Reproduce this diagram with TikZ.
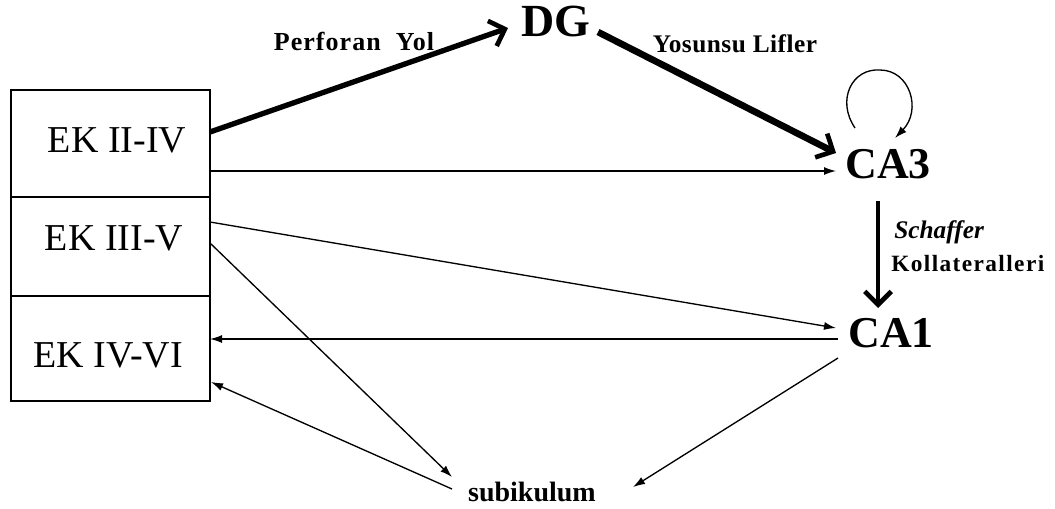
\documentclass[tikz,border=0pt]{standalone}
\usepackage{fontspec}
\setmainfont{Liberation Serif}
\usetikzlibrary{arrows.meta}
\begin{document}
\begin{tikzpicture}[x=0.75pt,y=-0.75pt,
  ek/.style={font=\fontsize{28.5}{30}\selectfont},
  region/.style={font=\fontsize{33}{36}\selectfont\bfseries, inner sep=0pt},
  lbl/.style={font=\fontsize{19}{20}\selectfont\bfseries\addfontfeature{LetterSpace=2}, inner sep=0pt},
  thinarrow/.style={line width=1pt,-{Latex[length=9pt,width=6pt]}},
  thickarrow/.style={-{Straight Barb[length=10pt,width=20pt,line width=3.5pt]}},
  boxline/.style={line width=2.2pt},
  divline/.style={line width=1pt}]
\useasboundingbox (0,0) rectangle (1055,508);

% entorhinal box
\draw[boxline] (11,90) rectangle (210,401);
\draw[divline] (11,197) -- (210,197);
\draw[divline] (11,296) -- (210,296);
\node[ek] (ek2) at (117,140) {EK II-IV};
\node[ek] (ek3) at (114,238) {EK III-V};
\node[ek] (ek4) at (108,355) {EK IV-VI};

% regions
\node[region, font=\fontsize{34.5}{36}\selectfont\bfseries] (dg) at (556,21) {DG};
\node[region] (ca3) at (888,164) {CA3};
\node[region] (ca1) at (891,333) {CA1};
\node[font=\fontsize{21}{24}\selectfont\bfseries, inner sep=0pt] (sub) at (532,492) {subikulum};

% connector end points
\coordinate (ek2a) at (210,132);
\coordinate (ek2b) at (210,171);
\coordinate (ek3a) at (210,222);
\coordinate (ek3b) at (210,243);
\coordinate (ek4a) at (210,339);
\coordinate (ek4b) at (211,382);
\coordinate (dgin) at (508,28);
\coordinate (dgout) at (598,32);
\coordinate (ca3in) at (836,153);
\coordinate (ca3h) at (836,171);
\coordinate (ca3out) at (878,201);
\coordinate (ca1in) at (878,308);
\coordinate (ca1l) at (836,328);
\coordinate (ca1o) at (838,339);
\coordinate (ca1d) at (838,358);
\coordinate (subl) at (452,477);
\coordinate (sublo) at (452,489);
\coordinate (subr) at (633,487);
\coordinate (loopa) at (855,128);
\coordinate (loopt) at (880,70);
\coordinate (loopb) at (895,138);

% thick pathways
\draw[thickarrow, line width=4pt] (ek2a) -- (dgin);
\draw[thickarrow, line width=5pt] (dgout) -- (ca3in);
\draw[thickarrow, line width=3.5pt] (ca3out) -- (ca1in);

% labels
\node[lbl, font=\fontsize{19.5}{20}\selectfont\bfseries\addfontfeature{LetterSpace=4}] (perf) at (354,41) {Perforan\ \ Yol};
\node[lbl] (yos) at (735,44) {Yosunsu Lifler};
\node[anchor=west, inner sep=0pt, font=\fontsize{19}{20}\selectfont\bfseries\itshape] (sch) at (894,232) {Schaffer};
\node[anchor=west, inner sep=0pt, font=\fontsize{17.5}{20}\selectfont\bfseries\addfontfeature{LetterSpace=6}] (kol) at (891,264) {Kollateralleri};

% thin connections
\draw[thinarrow] (ek2b) -- (ca3h);
\draw[thinarrow] (ek3a) -- (ca1l);
\draw[thinarrow] (ek3b) -- (subl);
\draw[thinarrow] (ca1o) -- (ek4a);
\draw[thinarrow] (sublo) -- (ek4b);
\draw[thinarrow] (ca1d) -- (subr);
\draw[thinarrow] (loopa) .. controls (836,100) and (852,68) .. (loopt)
  .. controls (910,70) and (922,110) .. (loopb);
\end{tikzpicture}
\end{document}
